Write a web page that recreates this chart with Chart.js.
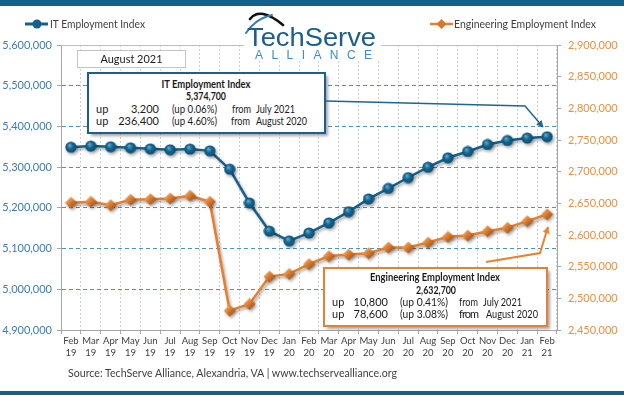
<!DOCTYPE html>
<html>
<head>
<meta charset="utf-8">
<script src="https://cdn.jsdelivr.net/npm/chart.js@4.4.1/dist/chart.umd.min.js"></script>
<style>
  html, body { margin: 0; padding: 0; background: #ffffff; }
  #wrap { position: relative; width: 624px; height: 395px; overflow: hidden; }
  #chart { position: absolute; left: 0; top: 0; }
  #over { position: absolute; left: 0; top: 0; pointer-events: none; }
  svg text { font-family: Lato, "Open Sans", sans-serif; }
</style>
</head>
<body>
<div id="wrap">
  <canvas id="chart" width="624" height="395"></canvas>
  <svg id="over" width="624" height="395" viewBox="0 0 624 395" xmlns="http://www.w3.org/2000/svg">
    <defs>
      <filter id="sh" x="-10%" y="-10%" width="130%" height="140%">
        <feGaussianBlur stdDeviation="1.5"/>
      </filter>
      <marker id="arB" viewBox="0 0 10 10" refX="9" refY="5" markerWidth="7" markerHeight="7" orient="auto" markerUnits="userSpaceOnUse">
        <path d="M0,0 L10,5 L0,10 z" fill="#1d6691"/>
      </marker>
      <marker id="arO" viewBox="0 0 10 10" refX="9" refY="5" markerWidth="7" markerHeight="7" orient="auto" markerUnits="userSpaceOnUse">
        <path d="M0,0 L10,5 L0,10 z" fill="#e9822f"/>
      </marker>
    </defs>
    <!-- top and bottom bars -->
    <rect x="0" y="0" width="624" height="6" fill="#12608e"/>
    <rect x="0" y="391" width="624" height="4" fill="#12608e"/>

    <!-- legend -->
    <line x1="25" y1="24" x2="48" y2="24" stroke="#14618d" stroke-width="3"/>
    <circle cx="37" cy="24" r="4.5" fill="#14618d"/>
    <text x="50" y="28" font-size="11.5" fill="#404040" textLength="95" lengthAdjust="spacingAndGlyphs">IT Employment Index</text>
    <line x1="430" y1="24" x2="453" y2="24" stroke="#e5802b" stroke-width="2.5"/>
    <path d="M441.5,19 L446.5,24 L441.5,29 L436.5,24 z" fill="#d9772a"/>
    <text x="454" y="28" font-size="11.5" fill="#404040" textLength="142" lengthAdjust="spacingAndGlyphs">Engineering Employment Index</text>

    <!-- logo -->
    <rect x="244" y="8" width="137" height="53" fill="#ffffff"/>
    <path d="M250,19 Q260,6 283,25" stroke="#111111" stroke-width="2.6" fill="none" stroke-linecap="round"/>
    <path d="M246,33 Q255,19 272,15" stroke="#2f7fbf" stroke-width="2" fill="none" stroke-linecap="round"/>
    <text x="247" y="45.5" font-size="25.5" fill="#1b5d8d" style="font-family:'Liberation Sans',Arial,sans-serif" textLength="129" lengthAdjust="spacingAndGlyphs">TechServe</text>
    <text x="255" y="58.5" font-size="12" fill="#3d8bc8" style="font-family:'Liberation Sans',Arial,sans-serif" textLength="117" lengthAdjust="spacing">ALLIANCE</text>

    <!-- August 2021 box -->
    <rect x="77.5" y="50.5" width="108" height="17" fill="#ffffff" stroke="#c4c4c4" stroke-width="1"/>
    <text x="131.5" y="63" font-size="11.5" fill="#1a1a1a" text-anchor="middle" textLength="62" lengthAdjust="spacingAndGlyphs">August 2021</text>

    <!-- IT box -->
    <rect x="91" y="76" width="237" height="60" fill="rgba(0,0,0,0.35)" filter="url(#sh)"/>
    <rect x="88" y="73" width="237" height="60" fill="#ffffff" stroke="#1d5f8c" stroke-width="2"/>
    <g font-size="11" fill="#1a1a1a">
      <text x="206" y="88" font-weight="bold" text-anchor="middle" textLength="89" lengthAdjust="spacingAndGlyphs">IT Employment Index</text>
      <text x="206" y="99.5" font-weight="bold" text-anchor="middle" textLength="40" lengthAdjust="spacingAndGlyphs">5,374,700</text>
      <text x="96" y="113">up</text>
      <text x="159" y="113" text-anchor="end">3,200</text>
      <text x="172" y="113" textLength="45" lengthAdjust="spacingAndGlyphs">(up 0.06%)</text>
      <text x="232" y="113" textLength="19" lengthAdjust="spacingAndGlyphs">from</text>
      <text x="256" y="113" textLength="39" lengthAdjust="spacingAndGlyphs">July 2021</text>
      <text x="96" y="124.5">up</text>
      <text x="159" y="124.5" text-anchor="end">236,400</text>
      <text x="172" y="124.5" textLength="45" lengthAdjust="spacingAndGlyphs">(up 4.60%)</text>
      <text x="231" y="124.5" textLength="19" lengthAdjust="spacingAndGlyphs">from</text>
      <text x="256" y="124.5" textLength="51" lengthAdjust="spacingAndGlyphs">August 2020</text>
    </g>

    <!-- Engineering box -->
    <rect x="327" y="271" width="223" height="58" fill="rgba(0,0,0,0.35)" filter="url(#sh)"/>
    <rect x="324" y="268" width="223" height="58" fill="#ffffff" stroke="#e0823a" stroke-width="2"/>
    <g font-size="11" fill="#1a1a1a">
      <text x="435" y="281" font-weight="bold" text-anchor="middle" textLength="130" lengthAdjust="spacingAndGlyphs">Engineering Employment Index</text>
      <text x="436" y="294" font-weight="bold" text-anchor="middle" textLength="40" lengthAdjust="spacingAndGlyphs">2,632,700</text>
      <text x="332" y="306">up</text>
      <text x="388" y="306" text-anchor="end">10,800</text>
      <text x="400" y="306" textLength="48" lengthAdjust="spacingAndGlyphs">(up 0.41%)</text>
      <text x="459" y="306" textLength="19" lengthAdjust="spacingAndGlyphs">from</text>
      <text x="483" y="306" textLength="39" lengthAdjust="spacingAndGlyphs">July 2021</text>
      <text x="332" y="318">up</text>
      <text x="388" y="318" text-anchor="end">78,600</text>
      <text x="400" y="318" textLength="48" lengthAdjust="spacingAndGlyphs">(up 3.08%)</text>
      <text x="459" y="318" textLength="20" lengthAdjust="spacing">from</text>
      <text x="486" y="318" textLength="52" lengthAdjust="spacingAndGlyphs">August 2020</text>
    </g>

    <!-- arrows -->
    <polyline points="326,101 525,106 543,127" fill="none" stroke="#1d6691" stroke-width="1.5" marker-end="url(#arB)"/>
    <polyline points="486,262 540,253 548,227" fill="none" stroke="#e9822f" stroke-width="2" marker-end="url(#arO)"/>

    <!-- source -->
    <text x="68" y="377" font-size="12" fill="#404040" textLength="329" lengthAdjust="spacingAndGlyphs">Source: TechServe Alliance, Alexandria, VA | www.techservealliance.org</text>
  </svg>
</div>
<script>
// ---- data ----
const months = ['Feb','Mar','Apr','May','Jun','Jul','Aug','Sep','Oct','Nov','Dec','Jan','Feb','Mar','Apr','May','Jun','Jul','Aug','Sep','Oct','Nov','Dec','Jan','Feb'];
const years  = ['19','19','19','19','19','19','19','19','19','19','19','20','20','20','20','20','20','20','20','20','20','20','20','21','21'];
const itIndex = [5349000, 5351700, 5350000, 5347500, 5345000, 5342600, 5344300, 5340000, 5295000, 5212000, 5143000, 5119000, 5138300, 5163000, 5190700, 5222000, 5248000, 5274500, 5300000, 5323000, 5338500, 5355700, 5365500, 5371500, 5374700];
const engIndex = [2650900, 2652500, 2647100, 2655700, 2656600, 2657700, 2662000, 2652500, 2480500, 2491100, 2534300, 2538600, 2554100, 2566700, 2569100, 2571200, 2580200, 2580200, 2588100, 2597100, 2599200, 2606000, 2611400, 2621900, 2632700];
const leftTicks = { min: 4900000, max: 5600000, step: 100000 };
const rightTicks = { min: 2450000, max: 2900000, step: 50000 };

const labels = months.map((m, i) => [m, years[i]]);

// ---- marker images ----
function circleImg() {
  const c = document.createElement('canvas'); c.width = 12; c.height = 12;
  const g = c.getContext('2d');
  const gr = g.createRadialGradient(4.5, 4, 0.5, 6, 6, 6);
  gr.addColorStop(0, '#5aa8d2'); gr.addColorStop(0.45, '#16658f'); gr.addColorStop(1, '#0a4a6c');
  g.fillStyle = gr; g.beginPath(); g.arc(6, 6, 5.6, 0, Math.PI * 2); g.fill();
  return c;
}
function diamondImg() {
  const c = document.createElement('canvas'); c.width = 13; c.height = 13;
  const g = c.getContext('2d');
  const gr = g.createLinearGradient(2, 2, 11, 11);
  gr.addColorStop(0, '#f4b070'); gr.addColorStop(0.5, '#d9772a'); gr.addColorStop(1, '#9b5016');
  g.fillStyle = gr; g.beginPath();
  g.moveTo(6.5, 0.5); g.lineTo(12.5, 6.5); g.lineTo(6.5, 12.5); g.lineTo(0.5, 6.5); g.closePath(); g.fill();
  return c;
}

const shadowPlugin = {
  id: 'shadow',
  beforeDatasetDraw(chart) {
    const ctx = chart.ctx; ctx.save();
    ctx.shadowColor = 'rgba(0,0,0,0.35)'; ctx.shadowBlur = 3; ctx.shadowOffsetX = 1.5; ctx.shadowOffsetY = 2;
  },
  afterDatasetDraw(chart) { chart.ctx.restore(); }
};
const topLine = {
  id: 'topLine',
  beforeDatasetsDraw(chart) {
    const { ctx, chartArea: a } = chart;
    ctx.save(); ctx.strokeStyle = '#bfbfbf'; ctx.lineWidth = 1;
    ctx.beginPath(); ctx.moveTo(a.left, a.top + 0.5); ctx.lineTo(a.right, a.top + 0.5); ctx.stroke();
    ctx.restore();
  }
};

const fmt = v => Number(v).toLocaleString('en-US');

new Chart(document.getElementById('chart'), {
  type: 'line',
  data: {
    labels,
    datasets: [
      { label: 'IT Employment Index', data: itIndex, yAxisID: 'yL', borderColor: '#14618d', borderWidth: 2.5,
        pointStyle: circleImg(), pointRadius: 6, tension: 0, fill: false },
      { label: 'Engineering Employment Index', data: engIndex, yAxisID: 'yR', borderColor: '#e5802b', borderWidth: 2.5,
        pointStyle: diamondImg(), pointRadius: 6, tension: 0, fill: false }
    ]
  },
  options: {
    responsive: false, animation: false, devicePixelRatio: 1,
    layout: { padding: { top: 45, left: 0, right: 0, bottom: 0 } },
    plugins: { legend: { display: false }, tooltip: { enabled: false } },
    scales: {
      x: {
        type: 'category', offset: true,
        grid: { offset: true, color: '#d0d0d0', lineWidth: 1, tickLength: 4, tickColor: '#a6a6a6' },
        border: { color: '#a6a6a6', dash: [2, 2] },
        ticks: { font: { family: 'Lato', size: 9.5, lineHeight: 1.25 }, color: '#404040', maxRotation: 0, minRotation: 0, autoSkip: false, padding: 1 },
        afterFit(s) { s.height = 65; }
      },
      yL: {
        type: 'linear', position: 'left', min: leftTicks.min, max: leftTicks.max,
        ticks: { stepSize: leftTicks.step, callback: fmt, color: '#3b7db4', font: { family: 'Lato', size: 11 }, padding: 5 },
        grid: { color: c => (c.tick && (c.tick.value === leftTicks.max || c.tick.value === leftTicks.min)) ? 'rgba(0,0,0,0)' : '#4b93c1',
                tickColor: '#a6a6a6', tickLength: 4, lineWidth: 1 },
        border: { color: '#a6a6a6', dash: [4, 3] },
        afterFit(s) { s.width = 61; }
      },
      yR: {
        type: 'linear', position: 'right', min: rightTicks.min, max: rightTicks.max,
        ticks: { stepSize: rightTicks.step, callback: fmt, color: '#e8913e', font: { family: 'Lato', size: 11 }, padding: 7 },
        grid: { drawOnChartArea: false, tickColor: '#a6a6a6', tickLength: 4 },
        border: { color: '#a6a6a6' },
        afterFit(s) { s.width = 67; }
      }
    }
  },
  plugins: [shadowPlugin, topLine]
});
</script>
</body>
</html>
